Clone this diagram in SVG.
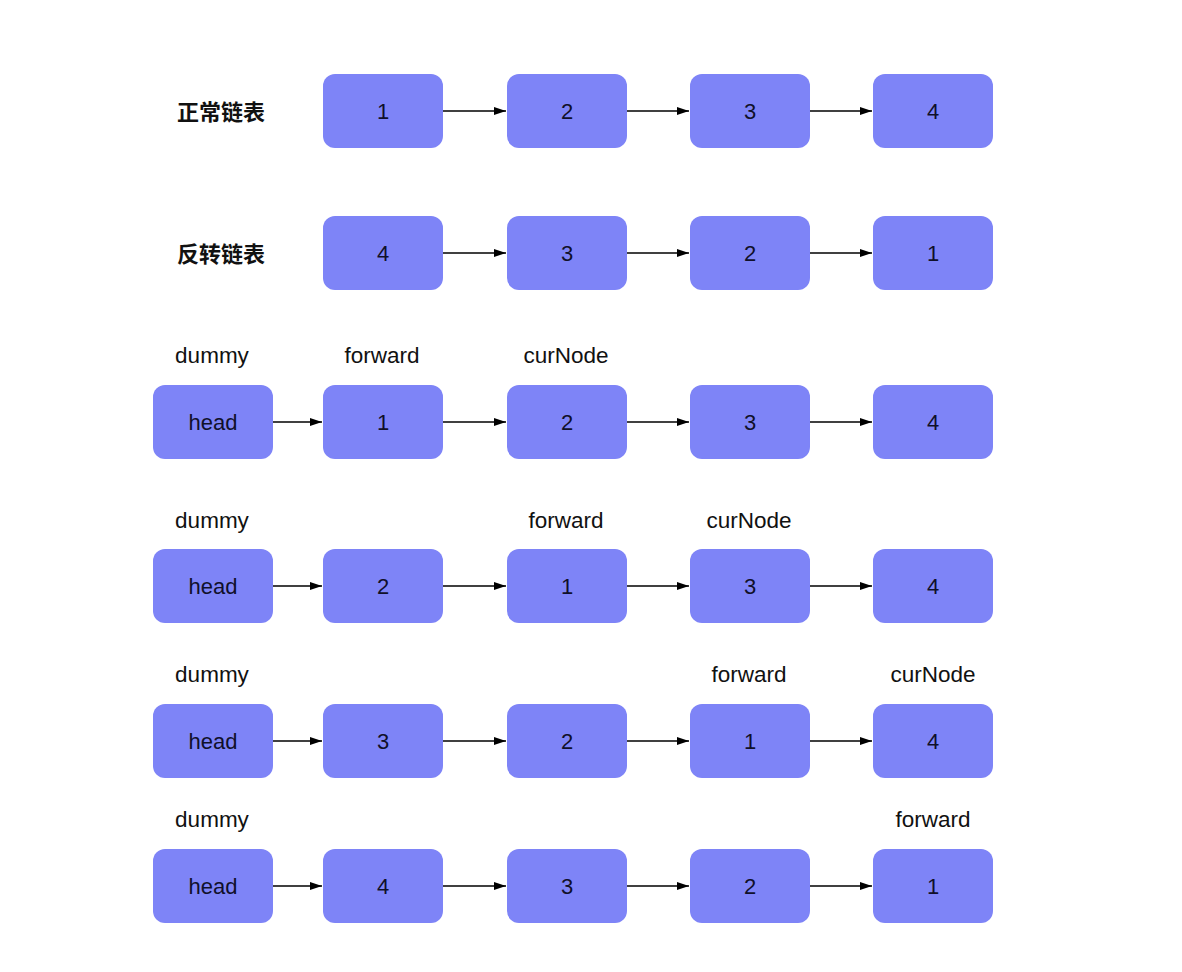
<svg xmlns="http://www.w3.org/2000/svg" width="1182" height="972" viewBox="0 0 1182 972">
<style>
.n rect{fill:#7e84f7;}
.n text{font-family:"Liberation Sans",Arial,sans-serif;font-size:22px;fill:#10102a;text-anchor:middle;dominant-baseline:central;}
.lbl{font-family:"Liberation Sans",Arial,sans-serif;font-size:22.5px;fill:#111;text-anchor:middle;dominant-baseline:central;}
.cn{font-family:"Liberation Sans","Noto Sans CJK SC",sans-serif;font-size:22px;font-weight:bold;fill:#111;text-anchor:middle;dominant-baseline:central;}
.c line{stroke:#000;stroke-width:1.3;marker-end:url(#ah);}
</style>
<defs>
<marker id="ah" viewBox="0 0 12 10" refX="12" refY="5" markerWidth="12" markerHeight="10" markerUnits="userSpaceOnUse" orient="auto">
<path d="M0,1 L12,5 L0,9 Z" fill="#000"/>
</marker>
</defs>
<rect width="1182" height="972" fill="#fff"/>
<text class="cn" x="221" y="112">正常链表</text>
<text class="cn" x="221" y="254">反转链表</text>
<text class="lbl" x="212" y="355">dummy</text>
<text class="lbl" x="382" y="355">forward</text>
<text class="lbl" x="566" y="355">curNode</text>
<text class="lbl" x="212" y="520">dummy</text>
<text class="lbl" x="566" y="520">forward</text>
<text class="lbl" x="749" y="520">curNode</text>
<text class="lbl" x="212" y="674">dummy</text>
<text class="lbl" x="749" y="674">forward</text>
<text class="lbl" x="933" y="674">curNode</text>
<text class="lbl" x="212" y="819">dummy</text>
<text class="lbl" x="933" y="819">forward</text>

<g id="r1n1" class="n"><rect x="323" y="74" width="120" height="74" rx="12"/><text x="383" y="111">1</text></g>
<g id="r1n2" class="n"><rect x="507" y="74" width="120" height="74" rx="12"/><text x="567" y="111">2</text></g>
<g id="r1n3" class="n"><rect x="690" y="74" width="120" height="74" rx="12"/><text x="750" y="111">3</text></g>
<g id="r1n4" class="n"><rect x="873" y="74" width="120" height="74" rx="12"/><text x="933" y="111">4</text></g>

<g id="r2n1" class="n"><rect x="323" y="216" width="120" height="74" rx="12"/><text x="383" y="253">4</text></g>
<g id="r2n2" class="n"><rect x="507" y="216" width="120" height="74" rx="12"/><text x="567" y="253">3</text></g>
<g id="r2n3" class="n"><rect x="690" y="216" width="120" height="74" rx="12"/><text x="750" y="253">2</text></g>
<g id="r2n4" class="n"><rect x="873" y="216" width="120" height="74" rx="12"/><text x="933" y="253">1</text></g>

<g id="r3h" class="n"><rect x="153" y="385" width="120" height="74" rx="12"/><text x="213" y="422">head</text></g>
<g id="r3n1" class="n"><rect x="323" y="385" width="120" height="74" rx="12"/><text x="383" y="422">1</text></g>
<g id="r3n2" class="n"><rect x="507" y="385" width="120" height="74" rx="12"/><text x="567" y="422">2</text></g>
<g id="r3n3" class="n"><rect x="690" y="385" width="120" height="74" rx="12"/><text x="750" y="422">3</text></g>
<g id="r3n4" class="n"><rect x="873" y="385" width="120" height="74" rx="12"/><text x="933" y="422">4</text></g>

<g id="r4h" class="n"><rect x="153" y="549" width="120" height="74" rx="12"/><text x="213" y="586">head</text></g>
<g id="r4n1" class="n"><rect x="323" y="549" width="120" height="74" rx="12"/><text x="383" y="586">2</text></g>
<g id="r4n2" class="n"><rect x="507" y="549" width="120" height="74" rx="12"/><text x="567" y="586">1</text></g>
<g id="r4n3" class="n"><rect x="690" y="549" width="120" height="74" rx="12"/><text x="750" y="586">3</text></g>
<g id="r4n4" class="n"><rect x="873" y="549" width="120" height="74" rx="12"/><text x="933" y="586">4</text></g>

<g id="r5h" class="n"><rect x="153" y="704" width="120" height="74" rx="12"/><text x="213" y="741">head</text></g>
<g id="r5n1" class="n"><rect x="323" y="704" width="120" height="74" rx="12"/><text x="383" y="741">3</text></g>
<g id="r5n2" class="n"><rect x="507" y="704" width="120" height="74" rx="12"/><text x="567" y="741">2</text></g>
<g id="r5n3" class="n"><rect x="690" y="704" width="120" height="74" rx="12"/><text x="750" y="741">1</text></g>
<g id="r5n4" class="n"><rect x="873" y="704" width="120" height="74" rx="12"/><text x="933" y="741">4</text></g>

<g id="r6h" class="n"><rect x="153" y="849" width="120" height="74" rx="12"/><text x="213" y="886">head</text></g>
<g id="r6n1" class="n"><rect x="323" y="849" width="120" height="74" rx="12"/><text x="383" y="886">4</text></g>
<g id="r6n2" class="n"><rect x="507" y="849" width="120" height="74" rx="12"/><text x="567" y="886">3</text></g>
<g id="r6n3" class="n"><rect x="690" y="849" width="120" height="74" rx="12"/><text x="750" y="886">2</text></g>
<g id="r6n4" class="n"><rect x="873" y="849" width="120" height="74" rx="12"/><text x="933" y="886">1</text></g>

<g id="connectors" class="c">
<line x1="443" y1="111" x2="506" y2="111"/><line x1="627" y1="111" x2="689" y2="111"/><line x1="810" y1="111" x2="872" y2="111"/>
<line x1="443" y1="253" x2="506" y2="253"/><line x1="627" y1="253" x2="689" y2="253"/><line x1="810" y1="253" x2="872" y2="253"/>
<line x1="273" y1="422" x2="322" y2="422"/><line x1="443" y1="422" x2="506" y2="422"/><line x1="627" y1="422" x2="689" y2="422"/><line x1="810" y1="422" x2="872" y2="422"/>
<line x1="273" y1="586" x2="322" y2="586"/><line x1="443" y1="586" x2="506" y2="586"/><line x1="627" y1="586" x2="689" y2="586"/><line x1="810" y1="586" x2="872" y2="586"/>
<line x1="273" y1="741" x2="322" y2="741"/><line x1="443" y1="741" x2="506" y2="741"/><line x1="627" y1="741" x2="689" y2="741"/><line x1="810" y1="741" x2="872" y2="741"/>
<line x1="273" y1="886" x2="322" y2="886"/><line x1="443" y1="886" x2="506" y2="886"/><line x1="627" y1="886" x2="689" y2="886"/><line x1="810" y1="886" x2="872" y2="886"/>
</g>
</svg>
